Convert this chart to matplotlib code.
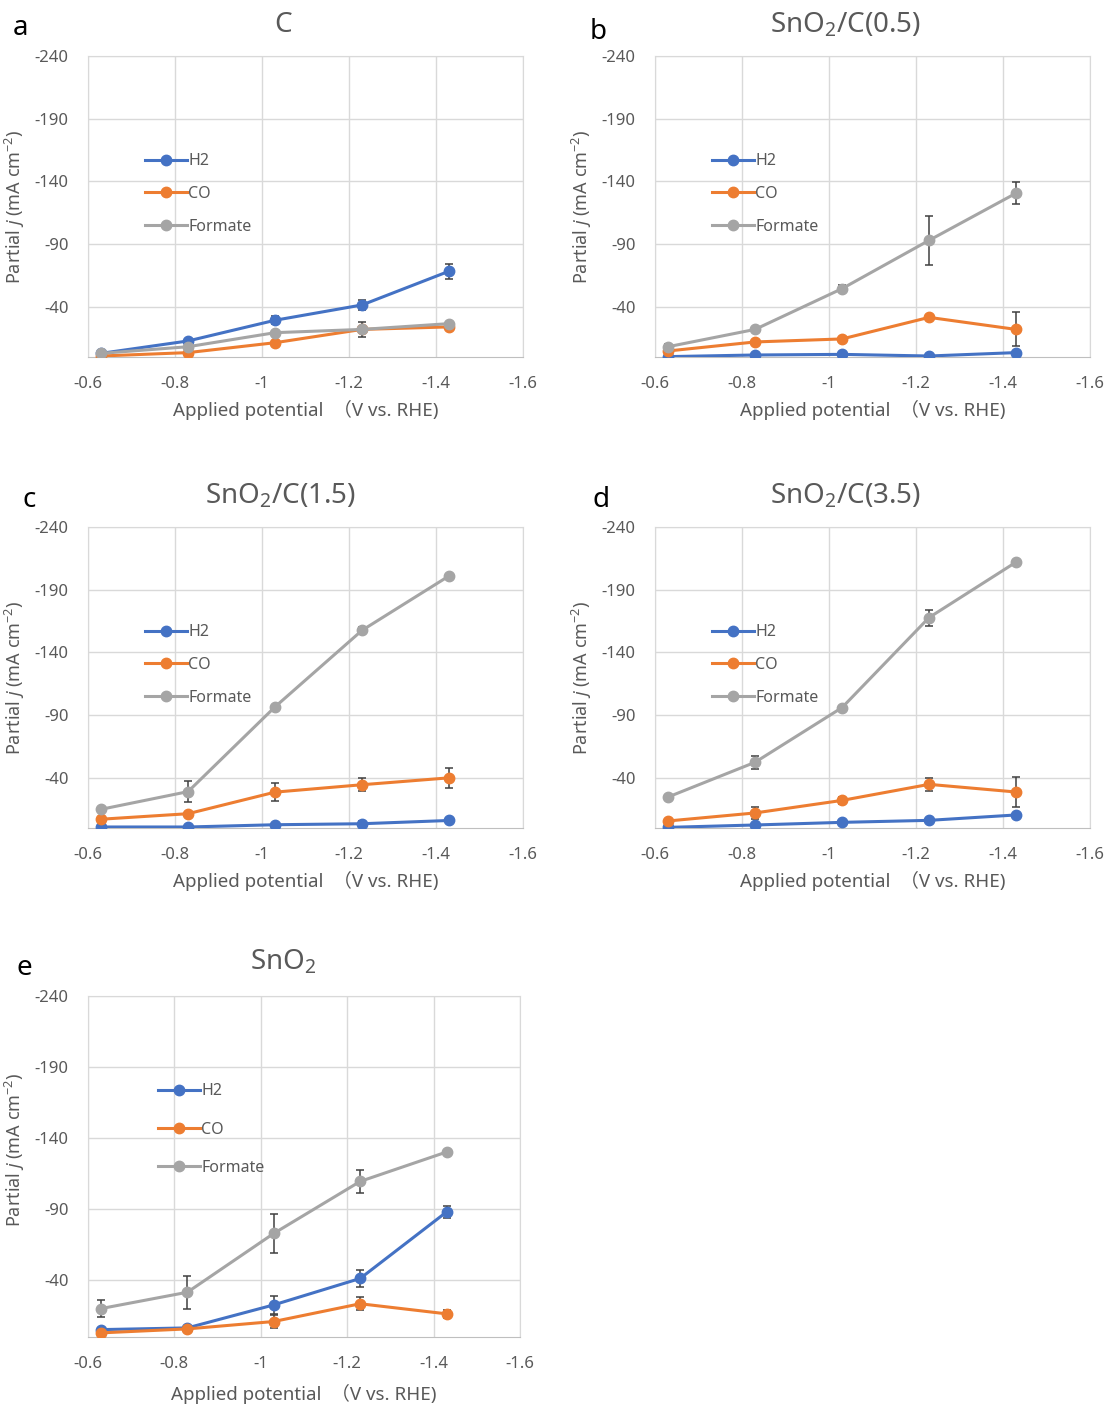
import matplotlib
matplotlib.use('Agg')
import matplotlib.pyplot as plt
from matplotlib.lines import Line2D

plt.rcParams['font.family'] = ['Noto Sans', 'Noto Sans CJK JP', 'DejaVu Sans']
plt.rcParams['mathtext.fontset'] = 'custom'
plt.rcParams['mathtext.rm'] = 'Noto Sans'
plt.rcParams['mathtext.it'] = 'Noto Sans:italic'
plt.rcParams['axes.unicode_minus'] = False

# applied potential (V vs. RHE)
potential = [-0.63, -0.83, -1.03, -1.23, -1.43]
xticks = [-0.6, -0.8, -1.0, -1.2, -1.4, -1.6]
xtick_labels = ['-0.6', '-0.8', '-1', '-1.2', '-1.4', '-1.6']
yticks = [-240, -190, -140, -90, -40]

series_names = ['H2', 'CO', 'Formate']
titles = ['C', 'SnO$_2$/C(0.5)', 'SnO$_2$/C(1.5)', 'SnO$_2$/C(3.5)', 'SnO$_2$']
letters = ['a', 'b', 'c', 'd', 'e']

# partial current density (mA cm-2), one list per product
c_h2 = [-2.9, -12.8, -29.3, -41.5, -68.4]
c_co = [-0.8, -3.5, -11.4, -22.0, -24.0]
c_fm = [-2.9, -8.2, -19.4, -22.0, -26.6]
c_h2_err = [1, 1, 3, 4, 6]
c_co_err = [1, 1, 1, 1, 1]
c_fm_err = [1, 1, 1, 6, 1]

b_h2 = [-0.3, -1.6, -2.1, -0.8, -3.5]
b_co = [-4.8, -12.0, -14.4, -31.6, -22.0]
b_fm = [-8.2, -22.0, -54.5, -93.0, -130.6]
b_h2_err = [1, 1, 1, 1, 1]
b_co_err = [1, 1, 1, 1, 13.5]
b_fm_err = [2, 1, 3, 19.4, 9]

c15_h2 = [-0.8, -0.8, -2.6, -3.4, -6.0]
c15_co = [-7.0, -11.4, -28.6, -34.5, -40.0]
c15_fm = [-14.9, -29.0, -96.6, -157.6, -201.0]
c15_h2_err = [1, 1, 1, 2, 2]
c15_co_err = [1, 1, 7.3, 5, 8]
c15_fm_err = [1, 8.4, 1, 3, 1]

c35_h2 = [-0.5, -2.4, -4.5, -6.1, -10.4]
c35_co = [-5.6, -12.0, -22.0, -34.8, -28.7]
c35_fm = [-24.7, -52.4, -96.0, -167.8, -212.0]
c35_h2_err = [1, 1, 1, 1, 1]
c35_co_err = [1, 5, 3, 5, 12]
c35_fm_err = [2, 5, 1, 6.4, 2]

sno2_h2 = [-5.2, -6.4, -22.6, -41.2, -88.0]
sno2_co = [-2.9, -5.7, -10.9, -23.4, -16.3]
sno2_fm = [-20.0, -31.5, -72.9, -109.5, -130.2]
sno2_h2_err = [1, 1, 6.5, 6, 4]
sno2_co_err = [1, 1, 4.7, 4.5, 3]
sno2_fm_err = [6, 11.5, 13.5, 8.2, 1]

panels = [
    ([c_h2, c_co, c_fm], [c_h2_err, c_co_err, c_fm_err]),
    ([b_h2, b_co, b_fm], [b_h2_err, b_co_err, b_fm_err]),
    ([c15_h2, c15_co, c15_fm], [c15_h2_err, c15_co_err, c15_fm_err]),
    ([c35_h2, c35_co, c35_fm], [c35_h2_err, c35_co_err, c35_fm_err]),
    ([sno2_h2, sno2_co, sno2_fm], [sno2_h2_err, sno2_co_err, sno2_fm_err]),
]

colors = ['#4472C4', '#ED7D31', '#A5A5A5']
W, H = 1107, 1408

# axes boxes in pixels: left, top, right, bottom
boxes = [(88, 56, 523, 357), (655, 56, 1090, 357),
         (88, 527, 523, 828), (655, 527, 1090, 828),
         (88, 996, 520, 1337)]
title_pos = [(283, 25), (845, 25), (280, 496), (845, 496), (283, 962)]
letter_pos = [(13, 28), (590, 32), (22, 500), (593, 500), (17, 968)]
xlabel_off = [43, 43, 43, 43, 47]
ylabel_y = [0.5, 0.5, 0.5, 0.5, 0.55]

fig = plt.figure(figsize=(W / 100, H / 100), dpi=100)

for i in range(5):
    l, t, r, b = boxes[i]
    ax = fig.add_axes([l / W, 1 - b / H, (r - l) / W, (b - t) / H])
    vals, errs = panels[i]
    for k in range(3):
        ax.errorbar(potential, vals[k], yerr=errs[k], color=colors[k], lw=2.2,
                    marker='o', ms=7.5, ecolor='#404040', elinewidth=1.1,
                    capsize=3, capthick=1.1, zorder=3 + k)
    ax.set_xlim(-0.6, -1.6)
    ax.set_ylim(0, -240)
    ax.set_xticks(xticks)
    ax.set_xticklabels(xtick_labels)
    ax.set_yticks(yticks)
    ax.grid(True, color='#D9D9D9', lw=1)
    ax.set_axisbelow(True)
    for s in ax.spines.values():
        s.set_color('#D9D9D9')
    ax.spines['bottom'].set_color('#BFBFBF')
    ax.tick_params(length=0, labelsize=12, labelcolor='#595959')
    ax.tick_params(axis='x', pad=14)
    ax.tick_params(axis='y', pad=14)
    ax.set_xlabel('Applied potential  （V vs. RHE)', fontsize=13.5, color='#595959')
    ax.set_ylabel(r'Partial $\it{j}$ (mA cm$^{-2}$)', fontsize=13, color='#595959')
    ax.xaxis.set_label_coords(0.5, -xlabel_off[i] / (b - t))
    ax.yaxis.set_label_coords(-61 / (r - l), ylabel_y[i])

    handles = [Line2D([], [], color=colors[k], lw=2.2, marker='o', ms=7.5) for k in range(3)]
    if i == 4:
        ax.legend(handles, series_names, loc='upper left', bbox_to_anchor=(0.162, 0.744),
                  frameon=False, fontsize=11.5, labelspacing=1.4, handlelength=2.6,
                  handletextpad=0.1, borderpad=0, borderaxespad=0, labelcolor='#595959')
    else:
        ax.legend(handles, series_names, loc='upper left', bbox_to_anchor=(0.131, 0.677),
                  frameon=False, fontsize=11.5, labelspacing=1.05, handlelength=2.6,
                  handletextpad=0.1, borderpad=0, borderaxespad=0, labelcolor='#595959')

    fig.text(title_pos[i][0] / W, 1 - title_pos[i][1] / H, titles[i], fontsize=20,
             color='#595959', ha='center', va='center')
    fig.text(letter_pos[i][0] / W, 1 - letter_pos[i][1] / H, letters[i], fontsize=20,
             color='black', ha='left', va='center')

fig.savefig('out.png', dpi=100)
